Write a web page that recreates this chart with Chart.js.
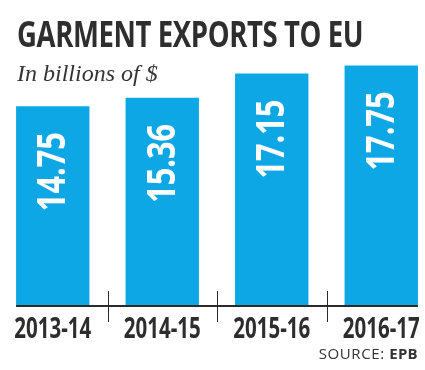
<!DOCTYPE html>
<html>
<head>
<meta charset="utf-8">
<script src="https://cdn.jsdelivr.net/npm/chart.js"></script>
<style>
  html, body { margin:0; padding:0; background:#fff; width:425px; height:370px; overflow:hidden; position:relative; }
  #title { position:absolute; left:17px; top:12px; font-family:"Open Sans",sans-serif; font-weight:bold; font-size:35px; color:#2e2e2e; white-space:nowrap; line-height:44px; transform-origin:0 0; letter-spacing:-0.5px; }
  #sub { position:absolute; left:17px; top:60px; font-family:"Liberation Serif","DejaVu Serif",serif; font-style:italic; font-size:24px; color:#333; white-space:nowrap; line-height:26px; }
  #src { position:absolute; right:7px; top:343px; font-family:"Open Sans",sans-serif; font-size:15px; color:#333; white-space:nowrap; line-height:20px; letter-spacing:0.6px; }
  #src b { font-weight:bold; letter-spacing:0.3px; }
  #wrap { position:absolute; left:-2px; top:0; width:438px; height:370px; }
</style>
</head>
<body>
<div id="wrap"><canvas id="chart"></canvas></div>
<div id="title">GARMENT EXPORTS TO EU</div>
<div id="sub">In billions of $</div>
<div id="src">SOURCE: <b>EPB</b></div>
<script>
var years = ["2013-14", "2014-15", "2015-16", "2016-17"];
var exportsEU = [14.75, 15.36, 17.15, 17.75];

var condensed = '"Open Sans",sans-serif';

// squeeze the title into a condensed look
var t = document.getElementById('title');
t.style.transform = 'scaleX(' + (346 / t.offsetWidth) + ')';

// value labels rotated inside bars, year labels, axis line and split ticks
var barDecor = {
    id: 'barDecor',
    afterDatasetsDraw: function(chart) {
        var ctx = chart.ctx;
        var bars = chart.getDatasetMeta(0).data;
        var bottom = chart.chartArea.bottom;
        var xs = chart.scales.x;
        ctx.save();
        ctx.fillStyle = '#fff';
        ctx.font = 'bold 40px ' + condensed;
        ctx.textAlign = 'right';
        ctx.textBaseline = 'middle';
        var vs = 79 / ctx.measureText('14.75').width;
        bars.forEach(function(b, i) {
            ctx.save();
            ctx.translate(b.x + 1, b.y + 26);
            ctx.rotate(-Math.PI / 2);
            ctx.scale(vs, 1);
            ctx.fillText(exportsEU[i].toFixed(2), 0, 0);
            ctx.restore();
        });
        // year labels under the axis
        ctx.fillStyle = '#2d2d2d';
        ctx.font = 'bold 28px ' + condensed;
        ctx.textAlign = 'center';
        ctx.textBaseline = 'alphabetic';
        var ls = 77 / ctx.measureText('2013-14').width;
        years.forEach(function(y, i) {
            ctx.save();
            ctx.translate(xs.getPixelForValue(i), bottom + 32);
            ctx.scale(ls, 1);
            ctx.fillText(y, 0, 0);
            ctx.restore();
        });
        // axis line across the bars
        var first = bars[0], last = bars[bars.length - 1];
        ctx.strokeStyle = '#2a2a2a';
        ctx.lineWidth = 2;
        ctx.beginPath();
        ctx.moveTo(first.x - first.width / 2, bottom);
        ctx.lineTo(last.x + last.width / 2, bottom);
        ctx.stroke();
        // ticks between categories
        ctx.lineWidth = 1;
        for (var i = 0; i < years.length - 1; i++) {
            var x = Math.round((xs.getPixelForValue(i) + xs.getPixelForValue(i + 1)) / 2) + 0.5;
            ctx.beginPath();
            ctx.moveTo(x, bottom - 15);
            ctx.lineTo(x, bottom + 16);
            ctx.stroke();
        }
        ctx.restore();
    }
};

new Chart(document.getElementById('chart'), {
    type: 'bar',
    data: {
        labels: years,
        datasets: [{
            data: exportsEU,
            backgroundColor: '#0ea7e6',
            borderWidth: 0,
            categoryPercentage: 1,
            barPercentage: 0.67
        }]
    },
    options: {
        responsive: true,
        maintainAspectRatio: false,
        animation: false,
        layout: { autoPadding: false, padding: { top: 35, left: 0, right: 0, bottom: 0 } },
        plugins: { legend: { display: false }, tooltip: { enabled: false } },
        scales: {
            x: {
                grid: { display: false },
                border: { display: false },
                ticks: { display: false },
                afterFit: function(scale) { scale.height = 64; }
            },
            y: {
                display: false,
                min: 0,
                max: 20
            }
        }
    },
    plugins: [barDecor]
});
</script>
</body>
</html>
